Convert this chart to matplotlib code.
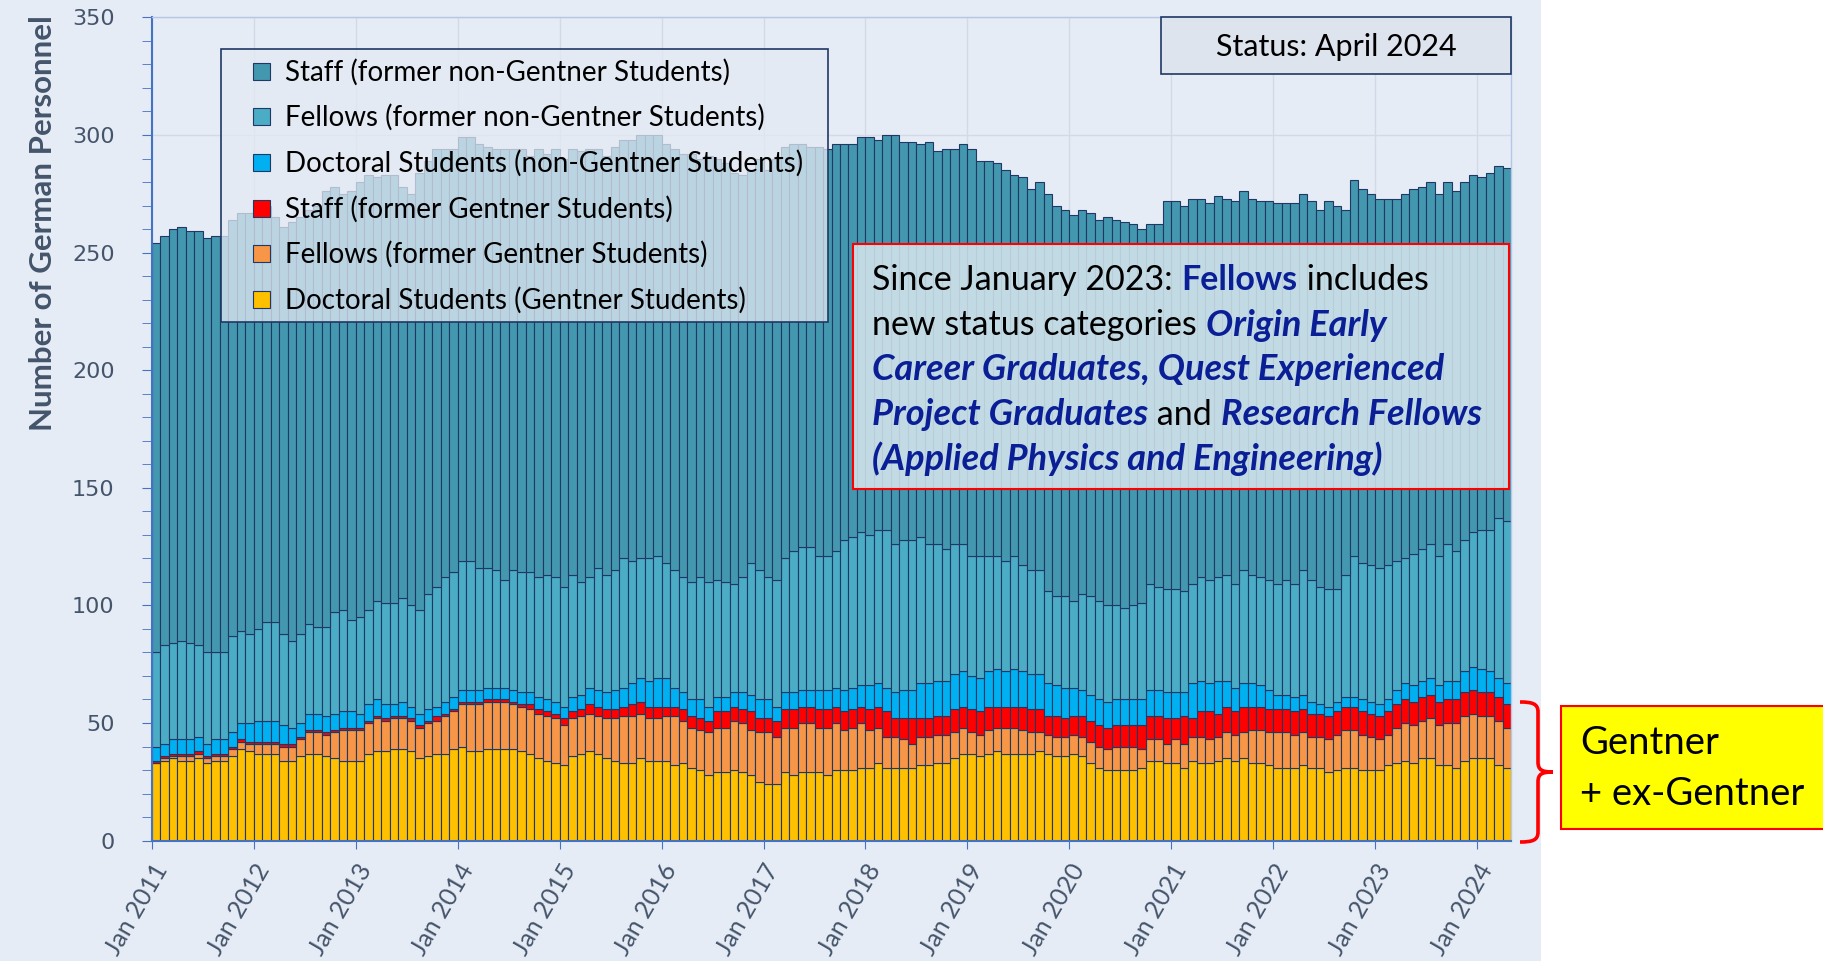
import numpy as np
import matplotlib
matplotlib.use("Agg")
import matplotlib.pyplot as plt
from matplotlib.patches import Rectangle, PathPatch
from matplotlib.path import Path

# ---------------- data (monthly, Jan 2011 .. Apr 2024) ----------------
tick_years = list(range(2011, 2025))
tick_labels = [f"Jan {y}" for y in tick_years]

series_names = [
    "Staff (former non-Gentner Students)",
    "Fellows (former non-Gentner Students)",
    "Doctoral Students (non-Gentner Students)",
    "Staff (former Gentner Students)",
    "Fellows (former Gentner Students)",
    "Doctoral Students (Gentner Students)",
]

doc_g = [33, 34, 35, 34, 34, 35, 33, 34, 34, 36, 39, 38,
         37, 37, 37, 34, 34, 36, 37, 37, 36, 35, 34, 34,
         34, 37, 38, 38, 39, 39, 38, 35, 36, 37, 37, 39,
         40, 38, 38, 39, 39, 39, 39, 38, 37, 35, 34, 33,
         32, 36, 37, 38, 37, 35, 34, 33, 33, 35, 34, 34,
         34, 32, 33, 31, 30, 28, 29, 29, 30, 29, 28, 25,
         24, 24, 29, 28, 29, 29, 29, 28, 30, 30, 30, 31,
         31, 33, 31, 31, 31, 31, 32, 32, 33, 33, 35, 37,
         37, 36, 37, 38, 37, 37, 37, 37, 38, 37, 36, 36,
         37, 36, 33, 31, 30, 30, 30, 30, 31, 34, 34, 33,
         33, 31, 34, 33, 33, 34, 35, 34, 35, 33, 33, 32,
         31, 31, 31, 32, 31, 31, 29, 30, 31, 31, 30, 30,
         30, 32, 33, 34, 33, 35, 35, 32, 32, 31, 34, 35,
         35, 35, 32, 31]

fel_g = [0, 1, 1, 2, 2, 2, 2, 2, 2, 3, 3, 3,
         4, 4, 4, 6, 6, 7, 9, 9, 9, 11, 13, 13,
         13, 13, 14, 13, 13, 13, 13, 13, 14, 14, 16, 16,
         18, 20, 20, 20, 20, 20, 19, 19, 19, 19, 19, 19,
         17, 16, 16, 16, 16, 17, 18, 20, 20, 19, 18, 18,
         19, 21, 18, 17, 17, 18, 19, 19, 21, 21, 19, 21,
         22, 20, 19, 20, 21, 21, 19, 20, 20, 17, 18, 19,
         16, 15, 13, 13, 12, 10, 12, 12, 12, 12, 11, 11,
         9, 9, 10, 10, 11, 11, 10, 9, 8, 8, 8, 8,
         8, 8, 9, 9, 9, 10, 10, 10, 8, 9, 9, 8,
         10, 10, 10, 11, 10, 10, 11, 11, 11, 14, 14, 14,
         15, 15, 14, 14, 13, 13, 14, 15, 16, 16, 15, 14,
         13, 13, 15, 16, 16, 16, 17, 17, 18, 19, 19, 19,
         18, 18, 19, 17]

staff_g = [1, 1, 1, 1, 1, 1, 1, 1, 1, 1, 1, 1,
           1, 1, 1, 1, 1, 1, 1, 1, 1, 1, 1, 1,
           1, 1, 1, 1, 1, 1, 1, 1, 1, 2, 1, 1,
           1, 1, 1, 1, 1, 1, 1, 1, 2, 2, 2, 2,
           3, 3, 3, 4, 4, 4, 4, 4, 5, 5, 5, 5,
           4, 4, 5, 5, 5, 5, 7, 7, 6, 6, 8, 6,
           6, 7, 8, 8, 7, 7, 8, 8, 7, 8, 8, 7,
           9, 9, 11, 8, 9, 11, 8, 8, 8, 8, 10, 9,
           10, 10, 10, 9, 9, 9, 10, 10, 10, 8, 9, 8,
           8, 9, 9, 9, 9, 9, 9, 9, 10, 10, 10, 11,
           9, 12, 8, 11, 12, 10, 11, 10, 11, 10, 10, 10,
           10, 10, 10, 10, 10, 10, 10, 10, 10, 10, 10, 10,
           10, 10, 10, 10, 10, 10, 10, 10, 10, 10, 10, 10,
           10, 10, 10, 10]

doc_ng = [6, 5, 6, 6, 6, 6, 5, 6, 6, 6, 7, 8,
          9, 9, 9, 8, 7, 6, 7, 7, 7, 7, 7, 7,
          6, 7, 7, 6, 5, 6, 5, 5, 5, 4, 5, 5,
          5, 5, 5, 5, 5, 5, 5, 5, 5, 5, 5, 5,
          5, 6, 6, 7, 7, 7, 8, 8, 9, 10, 11, 12,
          12, 8, 7, 7, 8, 6, 6, 6, 6, 7, 7, 8,
          8, 6, 7, 7, 7, 7, 8, 8, 8, 9, 9, 9,
          10, 10, 10, 11, 12, 12, 15, 15, 15, 15, 15, 15,
          14, 14, 15, 16, 15, 16, 15, 15, 15, 14, 13, 13,
          12, 11, 11, 11, 11, 11, 11, 11, 11, 11, 11, 11,
          11, 10, 15, 13, 12, 14, 11, 10, 10, 10, 9, 8,
          6, 6, 6, 6, 5, 4, 4, 4, 4, 4, 5, 5,
          5, 5, 6, 7, 7, 7, 7, 7, 8, 8, 9, 10,
          10, 9, 8, 9]

fel_ng = [40, 42, 41, 42, 41, 39, 39, 37, 37, 41, 39, 38,
          39, 42, 42, 39, 37, 38, 38, 37, 38, 43, 43, 39,
          41, 40, 42, 43, 43, 44, 43, 44, 49, 51, 53, 53,
          55, 55, 52, 51, 50, 46, 51, 51, 51, 51, 53, 53,
          51, 52, 48, 47, 52, 50, 51, 55, 52, 51, 52, 52,
          49, 50, 49, 50, 52, 53, 50, 49, 46, 49, 56, 55,
          52, 54, 57, 60, 61, 61, 57, 57, 58, 64, 64, 65,
          64, 65, 67, 63, 64, 64, 62, 59, 58, 56, 55, 54,
          51, 52, 49, 48, 47, 48, 45, 44, 44, 39, 38, 39,
          37, 41, 42, 42, 41, 40, 39, 40, 41, 45, 44, 44,
          44, 43, 42, 44, 44, 44, 45, 44, 48, 46, 46, 47,
          47, 49, 48, 53, 52, 50, 50, 48, 52, 60, 58, 58,
          58, 57, 55, 53, 56, 56, 57, 55, 58, 55, 56, 57,
          59, 60, 68, 69]

staff_ng = [174, 174, 176, 176, 175, 176, 176, 177, 177, 177, 178, 179,
            180, 177, 172, 173, 178, 177, 176, 179, 185, 181, 177, 182,
            185, 185, 180, 182, 182, 175, 175, 186, 184, 186, 182, 180,
            180, 180, 180, 179, 179, 183, 179, 180, 177, 182, 179, 182,
            182, 181, 183, 182, 178, 178, 180, 178, 179, 180, 180, 179,
            178, 179, 180, 182, 178, 181, 179, 178, 175, 171, 167, 175,
            173, 179, 175, 173, 171, 170, 174, 173, 173, 168, 167, 168,
            169, 166, 168, 174, 169, 169, 167, 171, 167, 170, 168, 170,
            173, 168, 168, 167, 166, 162, 165, 162, 165, 169, 166, 164,
            164, 163, 163, 162, 165, 164, 164, 162, 159, 153, 154, 165,
            165, 164, 164, 161, 160, 162, 160, 163, 161, 160, 160, 161,
            162, 160, 162, 160, 161, 160, 165, 163, 155, 160, 159, 158,
            157, 156, 154, 155, 155, 154, 154, 154, 154, 153, 152, 152,
            150, 152, 150, 150]

colors = ["#4397AF", "#4BACC6", "#00B0F0", "#FF0000", "#F79646", "#FFC000"]
edge = "#1F3864"
text_grey = "#44546A"
W, H = 1823, 961


def fx(x):
    return x / W


def fy(y):
    return 1 - y / H


fig = plt.figure(figsize=(W / 100, H / 100), dpi=100)
fig.patch.set_facecolor("white")
fig.add_artist(Rectangle((0, 0), fx(1541), 1, transform=fig.transFigure,
                         facecolor="#E6ECF6", edgecolor="none", zorder=-10))

ax = fig.add_axes([fx(152), fy(840.6), 1359 / W, 823.2 / H])
ax.set_facecolor("#E6ECF6")

months = np.arange(len(doc_g))
stack_bottom_up = [doc_g, fel_g, staff_g, doc_ng, fel_ng, staff_ng]
stack_colors = colors[::-1]
bottom = np.zeros(len(months))
for vals, col in zip(stack_bottom_up, stack_colors):
    v = np.array(vals, dtype=float)
    ax.bar(months, v, width=1.0, bottom=bottom, align="edge", color=col,
           edgecolor=edge, linewidth=0.8, zorder=2)
    bottom += v

ax.set_xlim(0, len(months))
ax.set_ylim(0, 350)
ax.set_yticks(np.arange(0, 351, 50))
ax.set_yticks(np.arange(0, 351, 10), minor=True)
ax.set_xticks(np.arange(0, len(months), 12))
ax.set_xticklabels(tick_labels, rotation=60, ha="right", va="top",
                   rotation_mode="anchor", fontsize=18, color=text_grey,
                   family="Lato")
for lab in ax.get_yticklabels():
    lab.set_fontsize(16)
    lab.set_color(text_grey)
    lab.set_family("DejaVu Sans")
ax.tick_params(axis="y", which="both", direction="out", length=7,
               color="#4472C4", pad=20)
ax.tick_params(axis="x", which="major", direction="out", length=6,
               color="#4472C4", pad=8)
ax.grid(True, which="major", color="#D3DAE6", linewidth=1, zorder=0)
ax.set_axisbelow(True)
for s in ["left", "bottom"]:
    ax.spines[s].set_color("#4472C4")
    ax.spines[s].set_linewidth(1.5)
for s in ["top", "right"]:
    ax.spines[s].set_color("#B4C7E7")
    ax.spines[s].set_linewidth(1)

fig.text(fx(43), fy(223), "Number of German Personnel", rotation=90,
         ha="center", va="center", fontsize=22.5, fontweight="bold",
         color=text_grey, family="Lato")

# ---------------- legend (manual) ----------------
fig.add_artist(Rectangle((fx(221), fy(322)), (828 - 221) / W, (322 - 49) / H,
                         transform=fig.transFigure, facecolor="#E4EAF3",
                         alpha=0.75, edgecolor="none", zorder=5))
fig.add_artist(Rectangle((fx(221), fy(322)), (828 - 221) / W, (322 - 49) / H,
                         transform=fig.transFigure, facecolor="none",
                         edgecolor="#1F3864", linewidth=1.2, zorder=6))
row_y = [72, 117, 163, 209, 254, 300]
for name, col, yy in zip(series_names, colors, row_y):
    fig.add_artist(Rectangle((fx(253), fy(yy + 8)), 17 / W, 17 / H,
                             transform=fig.transFigure, facecolor=col,
                             edgecolor=edge, linewidth=0.8, zorder=7))
    fig.text(fx(285), fy(yy), name, ha="left", va="center", fontsize=20,
             color="black", family="Lato", zorder=7)

# ---------------- status box ----------------
fig.add_artist(Rectangle((fx(1161), fy(74)), 350 / W, 57 / H,
                         transform=fig.transFigure, facecolor="#DEE4EE",
                         edgecolor="#1F3864", linewidth=1.2, zorder=5))
fig.text(fx(1336), fy(47), "Status: April 2024", ha="center", va="center",
         fontsize=22, color="black", family="Lato", zorder=6)

# ---------------- annotation box with rich text ----------------
fig.add_artist(Rectangle((fx(853), fy(489)), (1509 - 853) / W, (489 - 244) / H,
                         transform=fig.transFigure, facecolor="#D8E7EE",
                         alpha=0.85, edgecolor="none", zorder=5))
fig.add_artist(Rectangle((fx(853), fy(489)), (1509 - 853) / W, (489 - 244) / H,
                         transform=fig.transFigure, facecolor="none",
                         edgecolor="#FF0000", linewidth=1.5, zorder=6))

navy = "#0A1E96"
N = dict(color="black", fontweight="normal", fontstyle="normal", fontsize=24.5)
B = dict(color=navy, fontweight="bold", fontstyle="normal", fontsize=24.5)
BI = dict(color=navy, fontweight="bold", fontstyle="italic", fontsize=26)
rich_lines = [
    [("Since January 2023: ", N), ("Fellows", B), (" includes", N)],
    [("new status categories ", N), ("Origin Early", BI)],
    [("Career Graduates, Quest Experienced", BI)],
    [("Project Graduates", BI), (" and ", N), ("Research Fellows", BI)],
    [("(Applied Physics and Engineering)", BI)],
]
line_y = [277, 322, 367, 412, 456]
renderer = fig.canvas.get_renderer()


def piece_width(s, style):
    t1 = fig.text(0, 0, s + "|", family="Lato", **style)
    t2 = fig.text(0, 0, "|", family="Lato", **style)
    w = t1.get_window_extent(renderer).width - t2.get_window_extent(renderer).width
    t1.remove()
    t2.remove()
    return w


for pieces, yy in zip(rich_lines, line_y):
    x = 872.0
    for s, style in pieces:
        fig.text(fx(x), fy(yy), s, ha="left", va="center_baseline",
                 family="Lato", zorder=7, **style)
        x += piece_width(s, style)

# ---------------- Gentner box and bracket ----------------
fig.add_artist(Rectangle((fx(1561), fy(829)), (1840 - 1561) / W, (829 - 706) / H,
                         transform=fig.transFigure, facecolor="#FFFF00",
                         edgecolor="#FF0000", linewidth=1.5, zorder=5,
                         clip_on=False))
fig.text(fx(1580), fy(743), "Gentner", ha="left", va="center", fontsize=27.5,
         color="black", family="Lato", zorder=6)
fig.text(fx(1580), fy(794), "+ ex-Gentner", ha="left", va="center", fontsize=27.5,
         color="black", family="Lato", zorder=6)

pts = [(1520, 702), (1533, 702), (1538, 704), (1538, 712),
       (1538, 762),
       (1538, 770), (1542, 772), (1553, 772),
       (1542, 772), (1538, 774), (1538, 782),
       (1538, 832),
       (1538, 840), (1533, 842), (1520, 842)]
codes = [Path.MOVETO, Path.CURVE4, Path.CURVE4, Path.CURVE4,
         Path.LINETO,
         Path.CURVE4, Path.CURVE4, Path.CURVE4,
         Path.CURVE4, Path.CURVE4, Path.CURVE4,
         Path.LINETO,
         Path.CURVE4, Path.CURVE4, Path.CURVE4]
path = Path([(fx(a), fy(b)) for a, b in pts], codes)
fig.add_artist(PathPatch(path, transform=fig.transFigure, facecolor="none",
                         edgecolor="#FF0000", linewidth=2.6, zorder=6))

fig.savefig("out.png", dpi=100, facecolor=fig.get_facecolor())
